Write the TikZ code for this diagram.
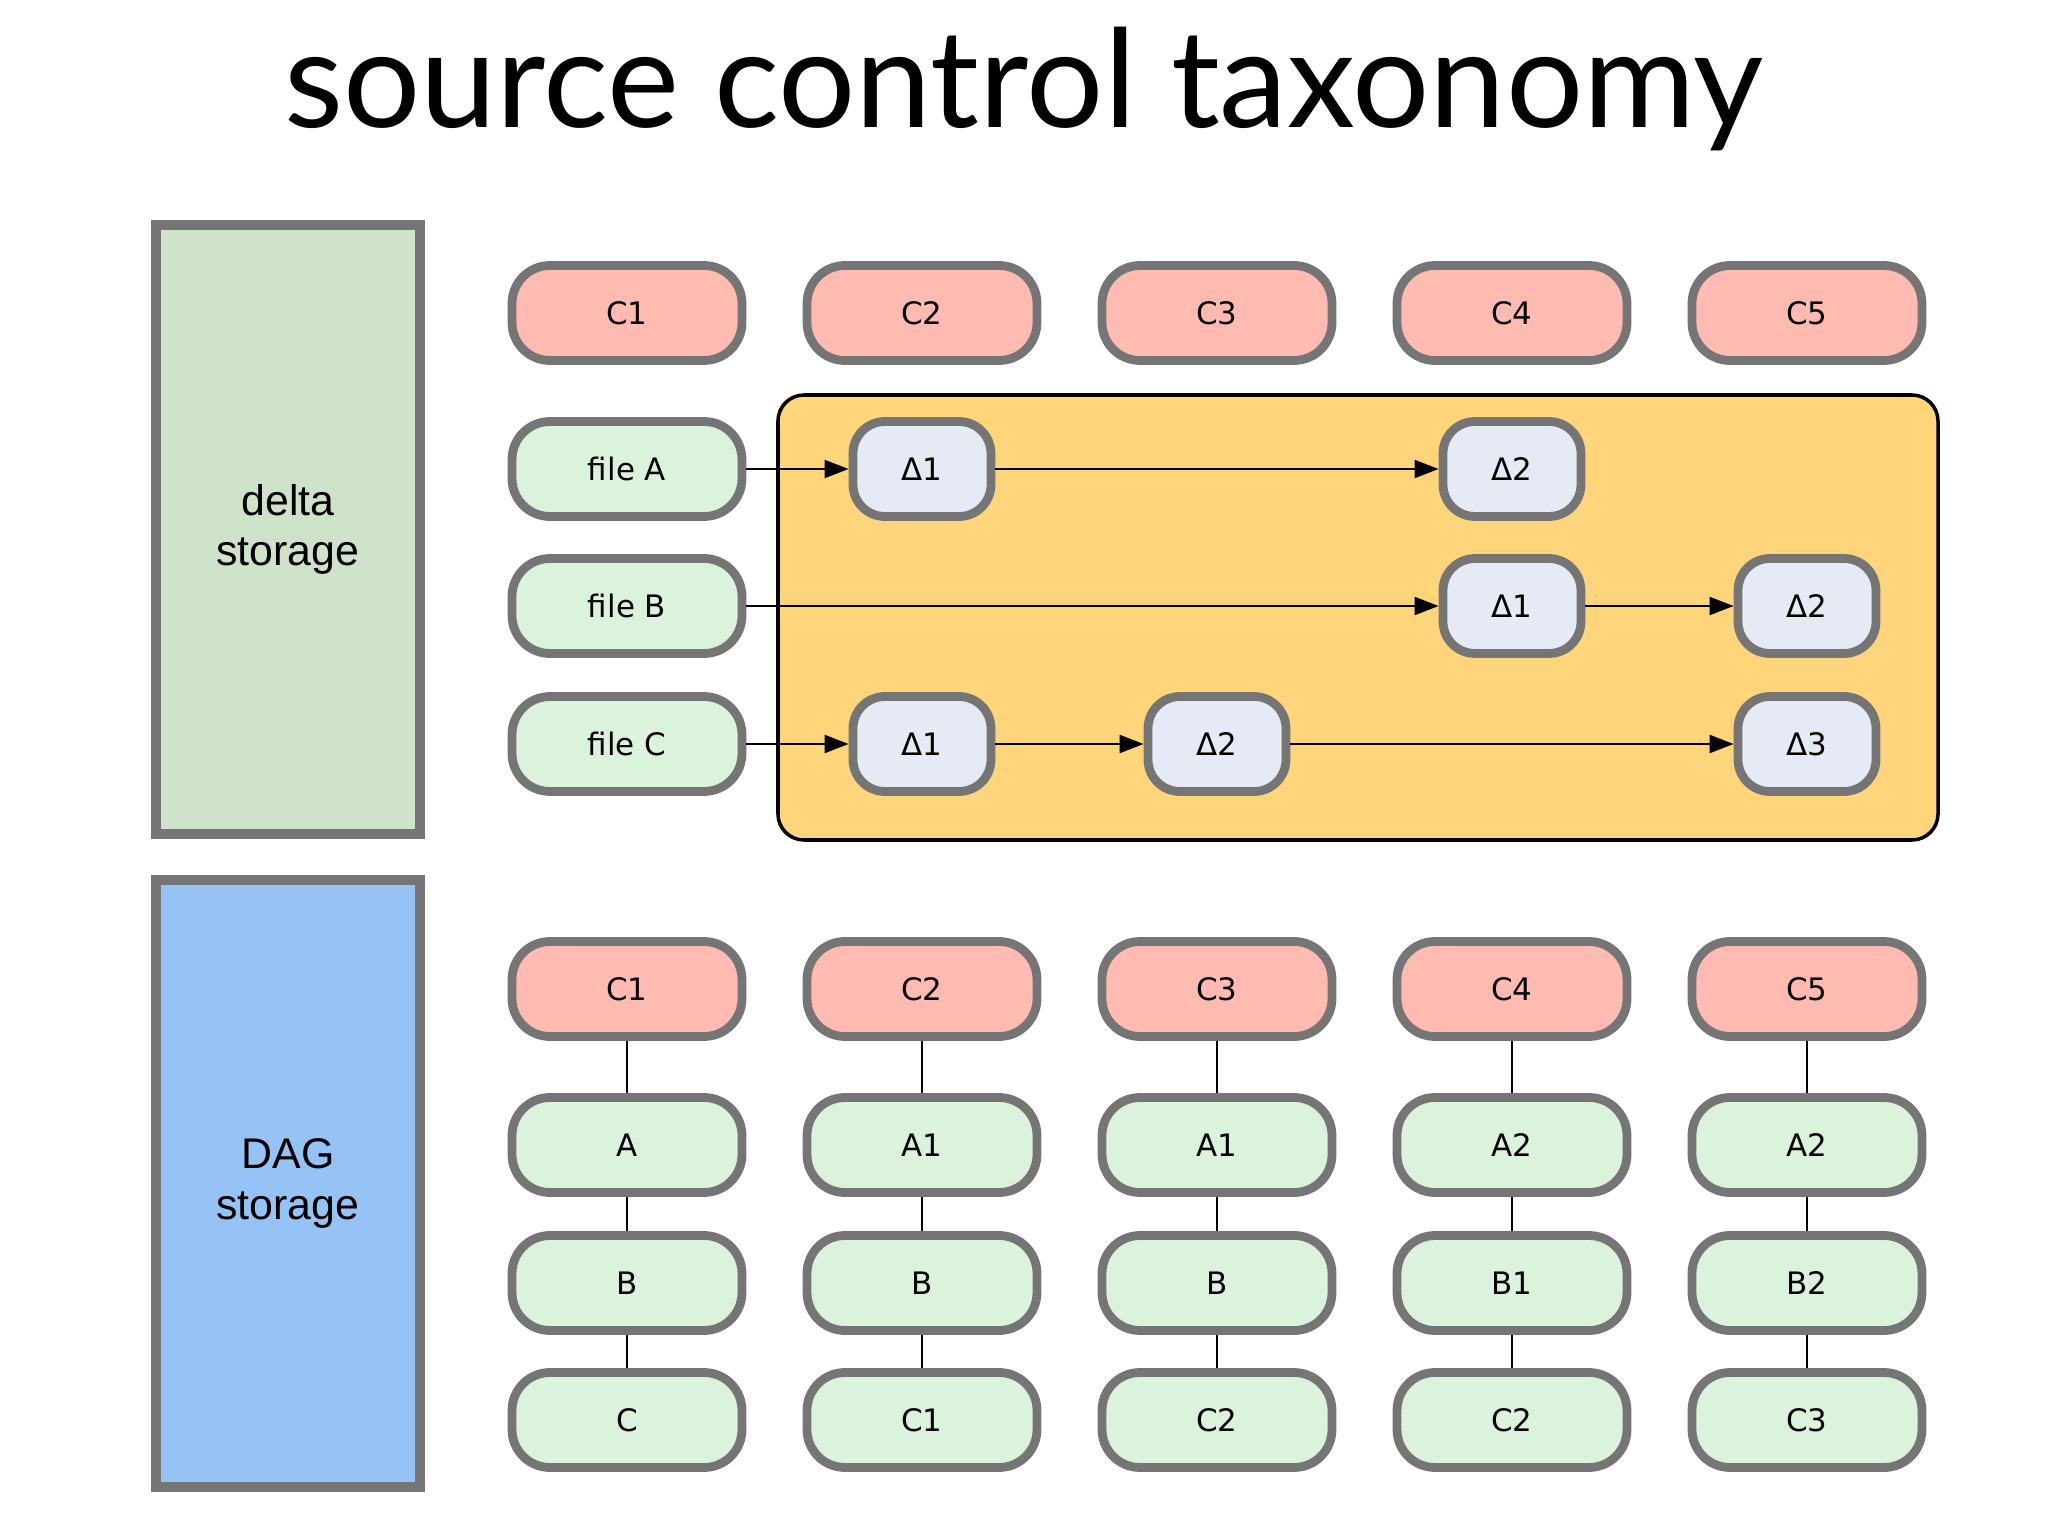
\documentclass[tikz,border=0pt]{standalone}
\usepackage{fontspec}
\setmainfont{DejaVu Sans}
\newfontfamily\titlefont{Lato}
\newfontfamily\storefont{Liberation Sans}
\usetikzlibrary{arrows.meta}

\definecolor{commitred}{HTML}{FFBBB1}
\definecolor{filegreen}{HTML}{DBF2DC}
\definecolor{deltablue}{HTML}{E5EAF5}
\definecolor{deltaorange}{HTML}{FED57A}
\definecolor{storegreen}{HTML}{CFE3CA}
\definecolor{storeblue}{HTML}{95C3F5}
\definecolor{rimgray}{HTML}{757575}

\begin{document}
\begin{tikzpicture}[
    node distance=2.95cm,
    pill/.style={draw=rimgray, line width=2.5pt, rounded corners=0.38cm,
                 minimum width=2.3cm, minimum height=0.95cm, inner sep=0pt,
                 font=\fontsize{8.8}{10}\selectfont},
    commitbox/.style={pill, fill=commitred},
    filebox/.style={pill, fill=filegreen},
    deltabox/.style={pill, fill=deltablue, minimum width=1.38cm, rounded corners=0.32cm},
    storebox/.style={draw=rimgray, line width=2.6pt, minimum width=2.64cm,
                     align=center, font=\storefont\fontsize{12.2}{14.4}\selectfont},
    link/.style={-{Triangle[length=0.24cm, width=0.18cm]}, line width=0.6pt}
]
\fill[white] (0,0) rectangle (20.48,-15.36);
\useasboundingbox (0,0) rectangle (20.48,-15.36);

\node (title) [anchor=base, font=\titlefont\fontsize{38.8}{42}\selectfont] at (10.24,-1.28) {source control taxonomy};

% left hand labels
\node (deltastore) [storebox, fill=storegreen, minimum height=6.09cm] at (2.88,-5.295) {delta\\storage};
\node (dagstore) [storebox, fill=storeblue, minimum height=6.07cm] at (2.88,-11.835) {DAG\\storage};

% delta storage
\node (patches) [draw, line width=1pt, fill=deltaorange, rounded corners=0.26cm,
                 minimum width=11.6cm, minimum height=4.45cm] at (13.58,-6.175) {};

\node (c1) [commitbox] at (6.27,-3.13) {C1};
\foreach \i/\p in {2/1,3/2,4/3,5/4}
  \node (c\i) [commitbox, right of=c\p] {C\i};

\node (fa) [filebox] at (6.27,-4.69) {file A};
\node (fb) [filebox] at (6.27,-6.06) {file B};
\node (fc) [filebox] at (6.27,-7.44) {file C};

\node (a1) [deltabox] at (c2 |- fa) {Δ1};
\node (a2) [deltabox] at (c4 |- fa) {Δ2};
\node (b1) [deltabox] at (c4 |- fb) {Δ1};
\node (b2) [deltabox] at (c5 |- fb) {Δ2};
\node (x1) [deltabox] at (c2 |- fc) {Δ1};
\node (x2) [deltabox] at (c3 |- fc) {Δ2};
\node (x3) [deltabox] at (c5 |- fc) {Δ3};

\draw [link] (fa) -- (a1);
\draw [link] (a1) -- (a2);
\draw [link] (fb) -- (b1);
\draw [link] (b1) -- (b2);
\draw [link] (fc) -- (x1);
\draw [link] (x1) -- (x2);
\draw [link] (x2) -- (x3);

% DAG storage
\foreach \i/\a/\b/\c in {1/A/B/C, 2/A1/B/C1, 3/A1/B/C2, 4/A2/B1/C2, 5/A2/B2/C3} {
  \node (k\i) [commitbox] at ({6.27+2.95*(\i-1)},-9.89) {C\i};
  \node (ka\i) [filebox, below of=k\i, node distance=1.56cm] {\a};
  \node (kb\i) [filebox, below of=ka\i, node distance=1.38cm] {\b};
  \node (kc\i) [filebox, below of=kb\i, node distance=1.37cm] {\c};
  \draw [line width=0.6pt] (k\i) -- (ka\i) -- (kb\i) -- (kc\i);
}
\end{tikzpicture}
\end{document}
